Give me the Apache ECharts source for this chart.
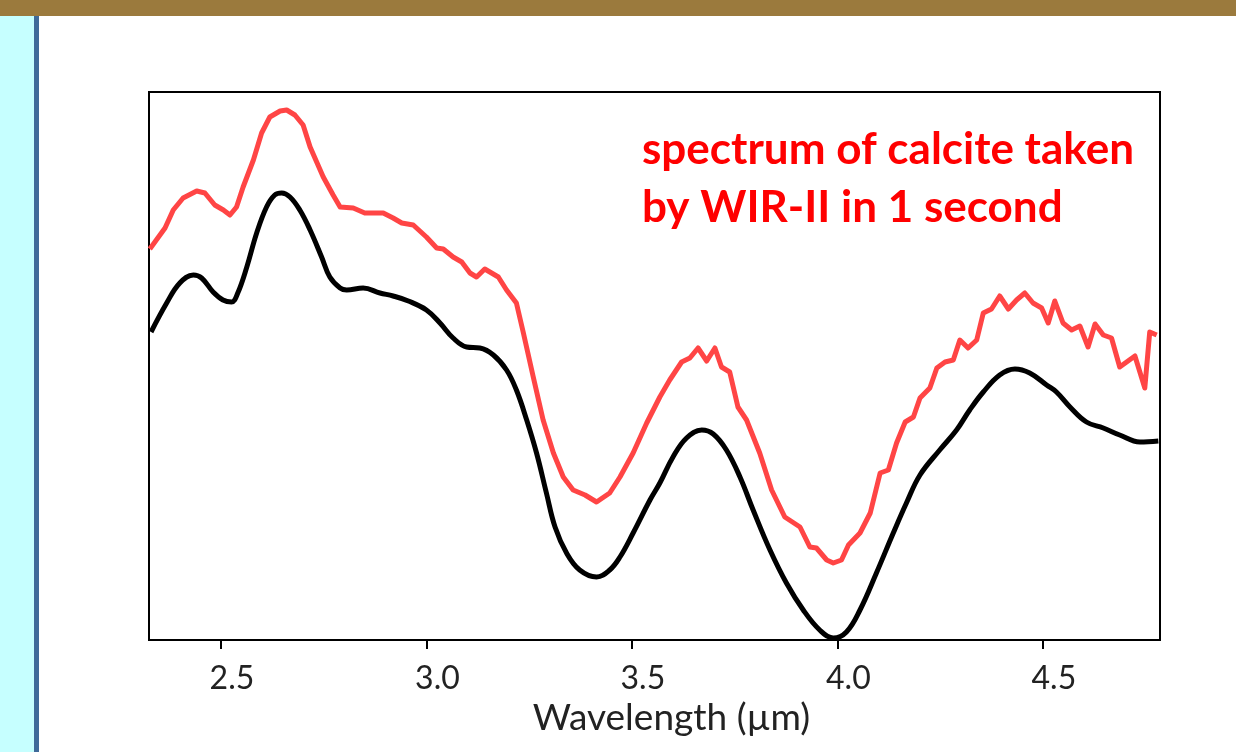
<!DOCTYPE html>
<html>
<head>
<meta charset="utf-8">
<script src="https://cdn.jsdelivr.net/npm/echarts@6/dist/echarts.min.js"></script>
<style>
html, body { margin: 0; padding: 0; background: #fff; }
#container { width: 1236px; height: 752px; }
</style>
</head>
<body>
<div id="container"></div>
<script>
// wavelength (um) and relative intensity (arbitrary units)
var blackWl = [2.330, 2.368, 2.400, 2.433, 2.453, 2.481, 2.505, 2.526, 2.541, 2.563, 2.587, 2.611, 2.631, 2.648, 2.668, 2.692, 2.717, 2.745, 2.765, 2.790, 2.806, 2.846, 2.887, 2.919, 2.956, 3.000, 3.033, 3.065, 3.098, 3.130, 3.163, 3.195, 3.219, 3.244, 3.268, 3.292, 3.313, 3.341, 3.373, 3.414, 3.446, 3.471, 3.503, 3.544, 3.568, 3.600, 3.633, 3.670, 3.698, 3.730, 3.763, 3.795, 3.836, 3.876, 3.917, 3.957, 3.990, 4.022, 4.055, 4.095, 4.136, 4.168, 4.201, 4.249, 4.290, 4.322, 4.355, 4.395, 4.432, 4.468, 4.509, 4.533, 4.566, 4.606, 4.647, 4.687, 4.736, 4.781];
var blackVal = [308, 337, 357, 365, 362, 348, 340, 338, 347, 373, 407, 433, 445, 447, 443, 430, 410, 383, 363, 352, 350, 352, 347, 344, 339, 330, 317, 302, 293, 292, 285, 270, 250, 220, 187, 147, 113, 87, 70, 63, 70, 83, 107, 140, 157, 183, 202, 210, 206, 190, 163, 130, 90, 57, 30, 10, 2, 8, 30, 67, 107, 137, 165, 190, 210, 230, 248, 265, 271, 267, 255, 248, 233, 218, 212, 205, 198, 199];

var redWl = [2.327, 2.364, 2.384, 2.408, 2.441, 2.461, 2.485, 2.506, 2.522, 2.538, 2.554, 2.579, 2.599, 2.619, 2.644, 2.660, 2.680, 2.700, 2.717, 2.749, 2.773, 2.790, 2.822, 2.850, 2.895, 2.919, 2.940, 2.968, 3.000, 3.025, 3.041, 3.065, 3.086, 3.106, 3.122, 3.142, 3.175, 3.195, 3.219, 3.236, 3.260, 3.284, 3.309, 3.333, 3.357, 3.386, 3.414, 3.446, 3.471, 3.503, 3.536, 3.568, 3.592, 3.621, 3.641, 3.661, 3.682, 3.702, 3.718, 3.738, 3.758, 3.779, 3.811, 3.840, 3.872, 3.909, 3.933, 3.949, 3.974, 3.990, 4.010, 4.027, 4.055, 4.080, 4.104, 4.124, 4.144, 4.165, 4.185, 4.201, 4.225, 4.242, 4.262, 4.282, 4.298, 4.318, 4.339, 4.355, 4.375, 4.395, 4.416, 4.436, 4.456, 4.476, 4.497, 4.513, 4.529, 4.549, 4.570, 4.590, 4.610, 4.627, 4.647, 4.667, 4.687, 4.724, 4.748, 4.760, 4.777];
var redVal = [391, 412, 430, 442, 449, 447, 435, 430, 425, 433, 453, 480, 507, 523, 529, 530, 525, 515, 493, 463, 445, 433, 432, 427, 427, 422, 417, 415, 403, 392, 391, 383, 378, 367, 363, 371, 363, 350, 337, 307, 263, 220, 187, 163, 150, 145, 138, 147, 163, 187, 217, 243, 260, 278, 282, 292, 279, 292, 273, 268, 233, 220, 187, 150, 123, 113, 93, 92, 80, 77, 80, 95, 107, 127, 167, 170, 197, 218, 223, 242, 252, 272, 278, 280, 300, 292, 300, 327, 331, 344, 331, 340, 347, 337, 332, 317, 339, 317, 310, 314, 293, 316, 305, 302, 273, 284, 252, 308, 305];

var tickValues = [2.5, 3.0, 3.5, 4.0, 4.5];

function pairs(xs, ys) {
    return xs.map(function (x, i) { return [x, ys[i]]; });
}

var dom = document.getElementById("container");
var myChart = echarts.init(dom);
var option = {
    backgroundColor: '#fff',
    animation: false,
    grid: {
        left: 149,
        right: 76,
        top: 92,
        bottom: 112,
        show: true,
        borderColor: '#000',
        borderWidth: 2,
        backgroundColor: 'transparent'
    },
    graphic: [
        { type: 'rect', z: -1, shape: { x: 0, y: 0, width: 1236, height: 16 }, style: { fill: '#9b7a3d' } },
        { type: 'rect', z: -1, shape: { x: 0, y: 16, width: 34, height: 736 }, style: { fill: '#c6ffff' } },
        { type: 'rect', z: -1, shape: { x: 34, y: 16, width: 5, height: 736 }, style: { fill: '#3f6a9a' } },
        {
            type: 'text', z: 10, left: 642, top: 121,
            style: {
                text: 'spectrum of calcite taken\nby WIR-II in 1 second',
                fill: '#ff0000',
                font: 'bold 44px Lato',
                lineHeight: 58
            }
        }
    ],
    xAxis: {
        type: 'value',
        min: 2.325,
        max: 4.785,
        name: 'Wavelength (\u00b5m)',
        nameLocation: 'middle',
        nameGap: 56,
        nameTextStyle: { color: '#222', fontSize: 37, fontFamily: 'Lato', padding: [0, 0, 0, 34] },
        axisLine: { show: true, lineStyle: { color: '#000', width: 2 } },
        axisTick: { show: true, customValues: tickValues, length: 9, lineStyle: { color: '#000', width: 2 } },
        axisLabel: {
            customValues: tickValues,
            color: '#222',
            fontSize: 32,
            fontFamily: 'Lato',
            margin: 23,
            padding: [0, 0, 0, 22],
            formatter: function (v) { return v.toFixed(1); }
        },
        splitLine: { show: false }
    },
    yAxis: {
        type: 'value',
        min: 0,
        max: 548,
        axisLine: { show: false },
        axisTick: { show: false },
        axisLabel: { show: false },
        splitLine: { show: false }
    },
    series: [
        {
            name: 'WIR-II 1 s',
            type: 'line',
            data: pairs(redWl, redVal),
            showSymbol: false,
            smooth: false,
            lineStyle: { color: '#ff4545', width: 5, join: 'round' },
            z: 3
        },
        {
            name: 'reference',
            type: 'line',
            data: pairs(blackWl, blackVal),
            showSymbol: false,
            smooth: 0.4,
            lineStyle: { color: '#000', width: 5 },
            z: 4
        }
    ]
};
myChart.setOption(option, true);
</script>
</body>
</html>
